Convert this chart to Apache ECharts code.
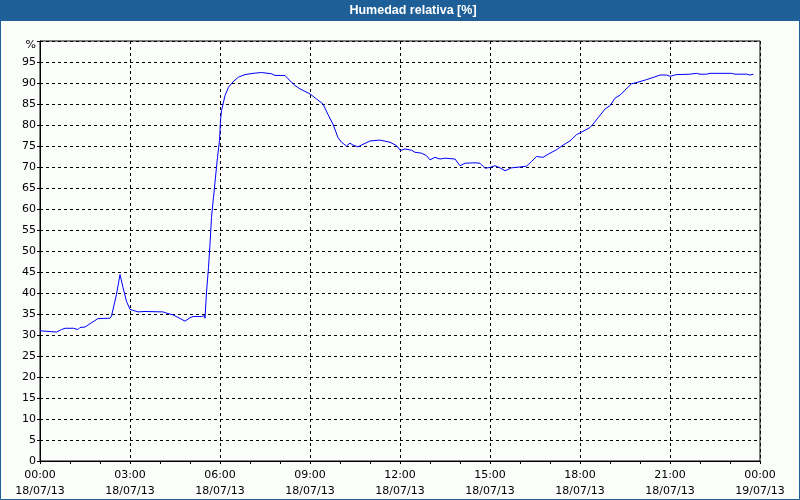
<!DOCTYPE html>
<html>
<head>
<meta charset="utf-8">
<script src="https://cdn.jsdelivr.net/npm/echarts@6/dist/echarts.min.js"></script>
<style>
html,body{margin:0;padding:0;background:#fbfdfb;}
#c{width:800px;height:500px;}
</style>
</head>
<body>
<div id="c"></div>
<script>
// Time in minutes since 18/07/13 00:00
var minutes = [0,33,43,50,67,76,80,90,100,116,140,143,153,160,166,173,180,183,196,210,246,250,256,266,290,300,306,323,329,330,333,337,340,343,347,351,355,359,361,363,370,377,387,397,410,426,443,463,470,490,496,510,520,540,553,566,576,586,596,603,613,620,626,636,646,660,680,700,713,721,730,743,750,763,773,780,790,800,810,830,840,850,870,880,890,900,910,920,930,943,960,973,983,993,1006,1020,1033,1046,1060,1073,1086,1100,1106,1116,1130,1140,1150,1160,1170,1183,1196,1213,1226,1240,1253,1260,1273,1300,1313,1320,1333,1340,1383,1390,1413,1420,1427];
var humidity = [31.0,30.7,31.3,31.6,31.6,31.3,31.8,31.9,32.7,33.9,34.0,34.5,39.7,44.4,41.3,38.0,36.1,35.7,35.5,35.6,35.5,35.7,35.1,34.8,33.3,34.1,34.4,34.4,34.6,34.0,40.2,46.1,51.7,58.0,62.8,67.6,72.3,76.3,81.1,83.4,87.0,89.0,90.4,91.4,92.0,92.3,92.5,92.2,91.8,91.8,91.0,89.4,88.6,87.4,86.2,85.0,82.5,80.2,77.0,75.9,75.0,75.7,75.2,74.8,75.4,76.2,76.4,75.9,75.1,73.9,74.3,74.0,73.5,73.3,72.7,71.7,72.3,71.9,72.1,71.9,70.3,70.9,71.0,70.9,69.7,69.9,70.3,69.8,69.1,69.8,70.0,70.2,71.3,72.5,72.3,73.3,74.1,75.2,76.2,77.7,78.5,79.4,80.2,81.7,83.8,84.6,86.4,87.1,88.3,89.8,90.2,90.8,91.3,91.9,91.9,91.6,92.0,92.1,92.3,92.1,92.1,92.3,92.3,92.1,92.1,91.9,92.1];
var titleText = 'Humedad relativa [%]';
var yUnit = '%';
var dateLabels = ['18/07/13','19/07/13'];

var data = minutes.map(function(m,i){ return [m, humidity[i]]; });
function pad(n){ return (n<10?'0':'')+n; }

var chart = echarts.init(document.getElementById('c'), null, {renderer:'canvas'});
var font = 'DejaVu Sans';
chart.setOption({
  backgroundColor: '#fbfdfb',
  animation: false,
  graphic: [
    {type:'rect', shape:{x:0,y:0,width:800,height:21}, style:{fill:'#1d5f96'}, z:-1},
    {type:'rect', shape:{x:0.5,y:0.5,width:799,height:499}, style:{fill:null, stroke:'#1d5f96', lineWidth:1}, z:-1},
    {type:'text', x:413, y:11, style:{text:titleText, fill:'#ffffff', font:'bold 12.5px "Liberation Sans"', align:'center', verticalAlign:'middle'}}
  ],
  grid: {left:40, right:40, top:41, bottom:39, show:true, borderColor:'#000', borderWidth:1, backgroundColor:'transparent'},
  xAxis: {
    type:'value', min:0, max:1440, interval:180,
    axisLine:{show:true, lineStyle:{color:'#000', width:1}},
    axisTick:{show:true, length:3, lineStyle:{color:'#000'}},
    minorTick:{show:true, splitNumber:3, length:3, lineStyle:{color:'#000'}},
    splitLine:{show:true, lineStyle:{color:'#000', type:[3,3], width:1}},
    axisLabel:{
      color:'#000', fontFamily:font, fontSize:11, lineHeight:16, margin:6,
      showMinLabel:true, showMaxLabel:true,
      formatter:function(v){
        var d = v>=1440 ? dateLabels[1] : dateLabels[0];
        var h = Math.floor(v/60)%24;
        return pad(h)+':00\n'+d;
      }
    }
  },
  yAxis: {
    type:'value', min:0, max:100, interval:5,
    axisLine:{show:true, lineStyle:{color:'#000', width:1}},
    axisTick:{show:true, length:3, lineStyle:{color:'#000'}},
    splitLine:{show:true, lineStyle:{color:'#000', type:[3,3], width:1}},
    axisLabel:{
      color:'#000', fontFamily:font, fontSize:11, margin:4,
      formatter:function(v){ return v===100 ? '{p|'+yUnit+'}' : String(v); },
      rich:{p:{fontFamily:font, fontSize:11, color:'#000', padding:[8,0,0,0]}}
    }
  },
  series: [{
    type:'line', data:data, showSymbol:false, symbol:'none', smooth:false,
    lineStyle:{color:'#0000ff', width:1}, z:5
  }]
});
</script>
</body>
</html>
